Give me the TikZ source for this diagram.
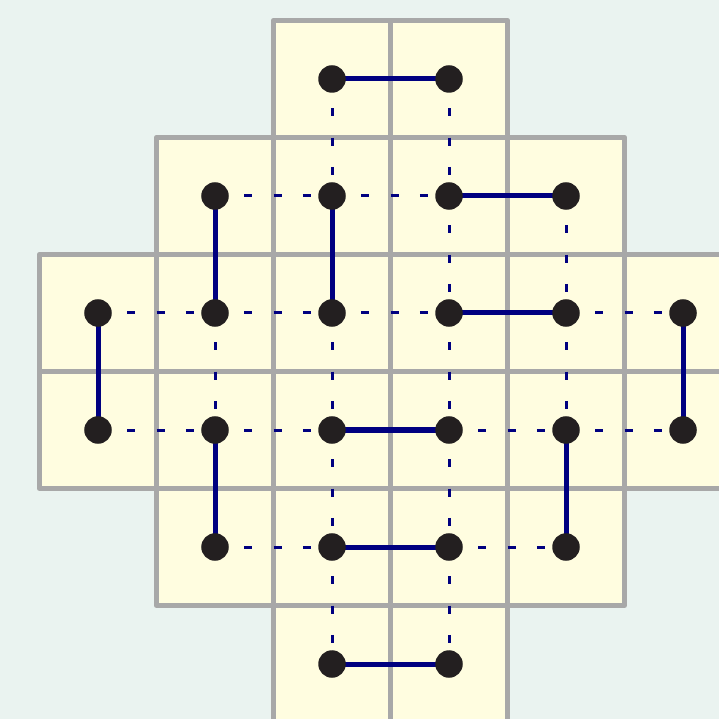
\documentclass[tikz,border=0pt]{standalone}
\usetikzlibrary{calc}
\definecolor{bg}{RGB}{234,243,240}
\definecolor{cellfill}{RGB}{255,253,224}
\definecolor{gridgray}{RGB}{168,168,168}
\definecolor{navyblue}{RGB}{0,0,128}
\definecolor{dotcol}{RGB}{35,31,32}
\begin{document}
\begin{tikzpicture}[x=0.01cm,y=-0.01cm,
  cellfillstyle/.style={fill=cellfill},
  cellline/.style={draw=gridgray,line width=0.052cm,line join=round},
  domino/.style={draw=navyblue,line width=0.05cm},
  nonedge/.style={draw=navyblue,line width=0.03cm,dash pattern=on 0.08cm off 0.2125cm},
  dotnode/.style={circle,fill=dotcol,inner sep=0pt,minimum size=0.275cm}]
\fill[bg] (0,0) rectangle (719,719);
\useasboundingbox (0,0) rectangle (719,719);
% cell centres
\foreach \r/\cs in {0/{2,3},1/{1,2,3,4},2/{0,1,2,3,4,5},3/{0,1,2,3,4,5},4/{1,2,3,4},5/{2,3}}{
  \foreach \c in \cs {
    \coordinate (p-\r-\c) at ({98+117*\c},{79+117*\r});
    \fill[cellfillstyle] ($(p-\r-\c)+(-58.5,-58.5)$) rectangle ($(p-\r-\c)+(58.5,58.5)$);
  }
}
\foreach \r/\cs in {0/{2,3},1/{1,2,3,4},2/{0,1,2,3,4,5},3/{0,1,2,3,4,5},4/{1,2,3,4},5/{2,3}}{
  \foreach \c in \cs {
    \draw[cellline] ($(p-\r-\c)+(-58.5,-58.5)$) rectangle ($(p-\r-\c)+(58.5,58.5)$);
  }
}
% non-domino adjacencies
\foreach \a/\b in {1-1/1-2,1-2/1-3,2-0/2-1,2-1/2-2,2-2/2-3,2-4/2-5,3-0/3-1,3-1/3-2,3-3/3-4,3-4/3-5,4-1/4-2,4-3/4-4,
  0-2/1-2,0-3/1-3,1-3/2-3,1-4/2-4,2-1/3-1,2-2/3-2,2-3/3-3,2-4/3-4,3-2/4-2,3-3/4-3,4-2/5-2,4-3/5-3}
  \draw[nonedge] (p-\a) -- (p-\b);
% dominoes
\foreach \a/\b in {0-2/0-3,1-1/2-1,1-2/2-2,1-3/1-4,2-3/2-4,2-0/3-0,2-5/3-5,3-2/3-3,3-1/4-1,3-4/4-4,4-2/4-3,5-2/5-3}
  \draw[domino] (p-\a) -- (p-\b);
% dots
\foreach \r/\cs in {0/{2,3},1/{1,2,3,4},2/{0,1,2,3,4,5},3/{0,1,2,3,4,5},4/{1,2,3,4},5/{2,3}}{
  \foreach \c in \cs {
    \node[dotnode] (d-\r-\c) at (p-\r-\c) {};
  }
}
\end{tikzpicture}
\end{document}
